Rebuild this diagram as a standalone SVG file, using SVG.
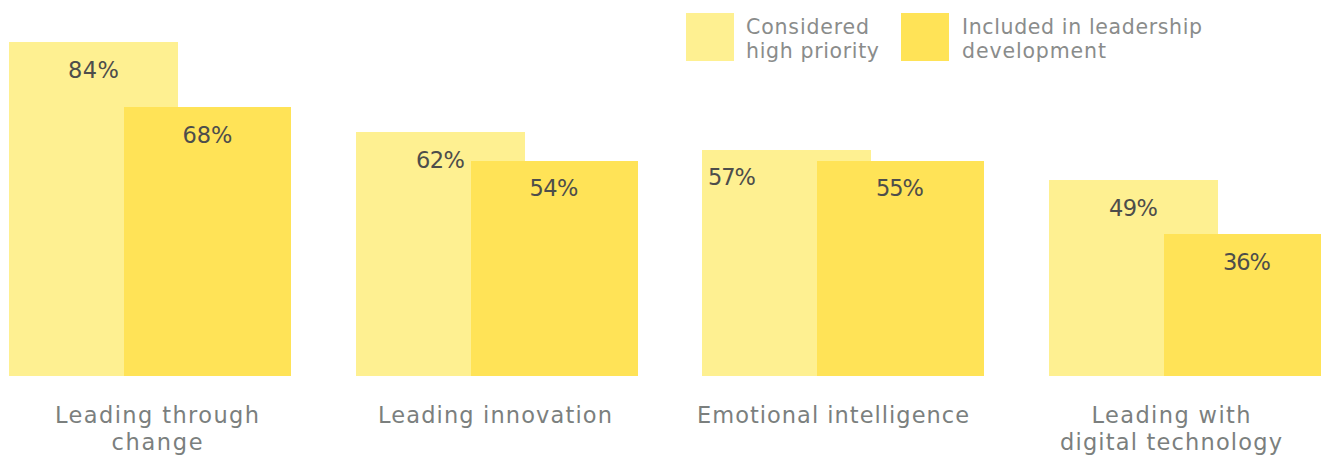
<svg xmlns="http://www.w3.org/2000/svg" width="1321" height="455" viewBox="0 0 1321 455">
<style>
.hi{fill:#FEF091}
.inc{fill:#FFE357}
.val{font-family:"DejaVu Sans","Liberation Sans",sans-serif;font-size:22.5px;fill:#4d4d4b;text-anchor:middle}
.cat{font-family:"DejaVu Sans","Liberation Sans",sans-serif;font-size:22.5px;fill:#7b7f7e;text-anchor:middle}
.leg{font-family:"DejaVu Sans","Liberation Sans",sans-serif;font-size:20.5px;fill:#8a8c8b}
</style>
<rect width="1321" height="455" fill="#ffffff"/>
<g id="legend">
<rect class="hi" x="686" y="13" width="48" height="48"/>
<text class="leg" x="746" y="34" textLength="123" lengthAdjust="spacing">Considered</text>
<text class="leg" x="746" y="58" textLength="133" lengthAdjust="spacing">high priority</text>
<rect class="inc" x="901" y="13" width="48" height="48"/>
<text class="leg" x="962" y="34" textLength="240" lengthAdjust="spacing">Included in leadership</text>
<text class="leg" x="962" y="58" textLength="144" lengthAdjust="spacing">development</text>
</g>
<g id="leading-through-change">
<rect class="hi" x="9" y="42" width="169" height="334"/>
<rect class="inc" x="124" y="107" width="167" height="269"/>
<text class="val" x="93.5" y="78" textLength="51" lengthAdjust="spacing">84%</text>
<text class="val" x="207.5" y="143" textLength="50" lengthAdjust="spacing">68%</text>
<text class="cat" x="157" y="423" textLength="204" lengthAdjust="spacing">Leading through</text>
<text class="cat" x="157" y="450" textLength="91" lengthAdjust="spacing">change</text>
</g>
<g id="leading-innovation">
<rect class="hi" x="356" y="132" width="169" height="244"/>
<rect class="inc" x="471" y="161" width="167" height="215"/>
<text class="val" x="440.5" y="168" textLength="49" lengthAdjust="spacing">62%</text>
<text class="val" x="554" y="196" textLength="49" lengthAdjust="spacing">54%</text>
<text class="cat" x="495" y="423" textLength="234" lengthAdjust="spacing">Leading innovation</text>
</g>
<g id="emotional-intelligence">
<rect class="hi" x="702" y="150" width="169" height="226"/>
<rect class="inc" x="817" y="161" width="167" height="215"/>
<text class="val" x="732" y="185" textLength="48" lengthAdjust="spacing">57%</text>
<text class="val" x="900" y="196" textLength="48" lengthAdjust="spacing">55%</text>
<text class="cat" x="833" y="423" textLength="272" lengthAdjust="spacing">Emotional intelligence</text>
</g>
<g id="leading-with-digital-technology">
<rect class="hi" x="1049" y="180" width="169" height="196"/>
<rect class="inc" x="1164" y="234" width="167" height="142"/>
<text class="val" x="1133.5" y="216" textLength="49" lengthAdjust="spacing">49%</text>
<text class="val" x="1247" y="270" textLength="48" lengthAdjust="spacing">36%</text>
<text class="cat" x="1171" y="423" textLength="159" lengthAdjust="spacing">Leading with</text>
<text class="cat" x="1171" y="450" textLength="222" lengthAdjust="spacing">digital technology</text>
</g>
</svg>
